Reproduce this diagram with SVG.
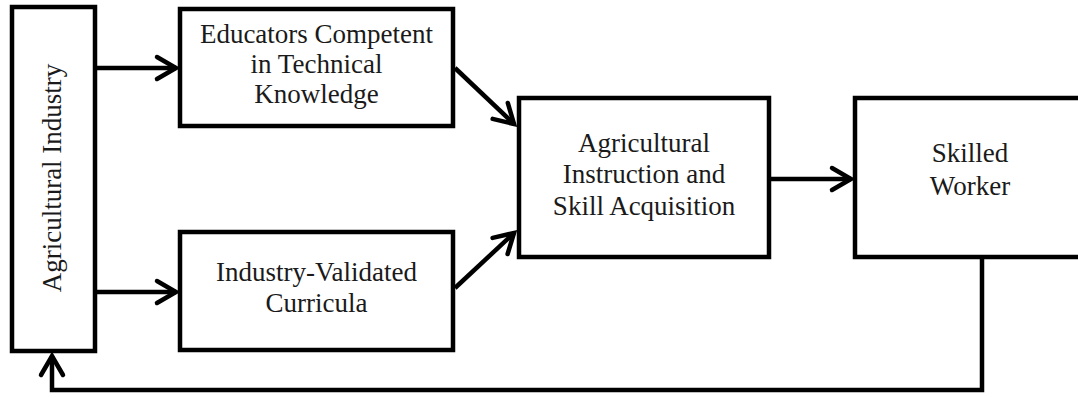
<svg xmlns="http://www.w3.org/2000/svg" width="1078" height="398" viewBox="0 0 1078 398">
<defs>
<style>
.box{fill:#fff;stroke:#000;stroke-width:4.5}
.lbl{font-family:"Liberation Serif","Times New Roman",serif;font-size:27px;fill:#1a1a1a;text-anchor:middle}
.con{fill:none;stroke:#000;stroke-width:4.5}
</style>
<marker id="arr" markerUnits="userSpaceOnUse" viewBox="-24 -14 28 28" refX="0" refY="0" markerWidth="28" markerHeight="28" orient="auto" overflow="visible">
<path d="M-19,-11 L0,0 L-19,11" fill="none" stroke="#000" stroke-width="4.5" stroke-linecap="round" stroke-linejoin="miter"/>
</marker>
</defs>
<rect width="1078" height="398" fill="#fff"/>
<g id="connectors">
<line class="con" x1="97" y1="68" x2="176" y2="68" marker-end="url(#arr)"/>
<line class="con" x1="97" y1="292" x2="176" y2="292" marker-end="url(#arr)"/>
<line class="con" x1="455" y1="68" x2="514" y2="124" marker-end="url(#arr)"/>
<line class="con" x1="455" y1="288" x2="514" y2="233" marker-end="url(#arr)"/>
<line class="con" x1="771" y1="179" x2="851" y2="179" marker-end="url(#arr)"/>
<polyline class="con" points="982,259 982,390 52,390 52,356" marker-end="url(#arr)"/>
</g>
<g id="agricultural-industry">
<rect class="box" x="12" y="7" width="83" height="344"/>
<text class="lbl" transform="translate(61,178) rotate(-90)" x="0" y="0">Agricultural Industry</text>
</g>
<g id="educators">
<rect class="box" x="180" y="9" width="273" height="117"/>
<text class="lbl" x="316.5" y="43">Educators Competent</text>
<text class="lbl" x="316.5" y="73">in Technical</text>
<text class="lbl" x="316.5" y="103">Knowledge</text>
</g>
<g id="curricula">
<rect class="box" x="180" y="232" width="273" height="118"/>
<text class="lbl" x="316.5" y="281">Industry-Validated</text>
<text class="lbl" x="316.5" y="312">Curricula</text>
</g>
<g id="instruction">
<rect class="box" x="519" y="98" width="250" height="159"/>
<text class="lbl" x="644" y="152">Agricultural</text>
<text class="lbl" x="644" y="183">Instruction and</text>
<text class="lbl" x="644" y="215">Skill Acquisition</text>
</g>
<g id="skilled-worker">
<rect class="box" x="855" y="98" width="240" height="159"/>
<text class="lbl" x="970" y="162">Skilled</text>
<text class="lbl" x="970" y="195">Worker</text>
</g>
</svg>
